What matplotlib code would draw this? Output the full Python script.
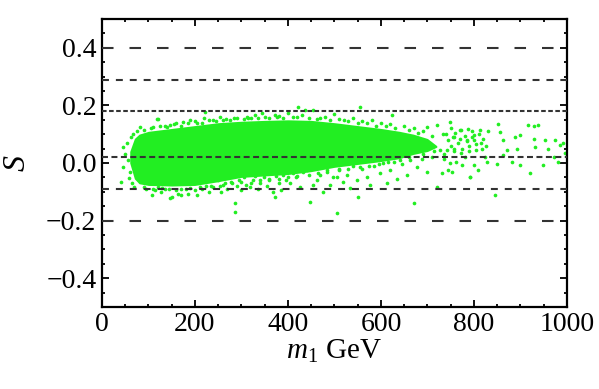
import matplotlib
matplotlib.use("Agg")
import matplotlib.pyplot as plt
from matplotlib.ticker import MultipleLocator, FuncFormatter

plt.rcParams['font.family'] = ['Liberation Serif', 'DejaVu Serif']
plt.rcParams['mathtext.fontset'] = 'custom'
plt.rcParams['mathtext.rm'] = 'Liberation Serif'
plt.rcParams['mathtext.it'] = 'Liberation Serif:italic'
plt.rcParams['lines.scale_dashes'] = False

# dense core of the scan (envelope)
core_x = [60, 70, 80, 100, 150, 200, 250, 300, 350, 400, 450, 500, 550, 600, 640, 670, 700, 720]
core_hi = [0.04, 0.085, 0.10, 0.11, 0.12, 0.13, 0.14, 0.145, 0.148, 0.15, 0.148, 0.14,
           0.13, 0.12, 0.11, 0.10, 0.085, 0.06]
core_lo = [0.0, -0.055, -0.072, -0.078, -0.08, -0.078, -0.065, -0.05, -0.045, -0.04, -0.03,
           -0.015, -0.005, 0.005, 0.015, 0.03, 0.04, 0.055]

# points along the ragged edge of the core
edge_x = [90, 105, 125, 140, 155, 170, 185, 200, 215, 230, 245, 260, 275, 290, 305, 320, 335,
          360, 380, 410, 430, 445, 470, 490, 510, 530, 550, 570, 590, 610, 630, 660, 680, 710,
          90, 110, 130, 145, 170, 190, 210, 235, 260, 280, 300, 320, 340, 360, 380, 400, 420,
          445, 465, 485, 510, 530, 555, 575, 595, 615, 640, 660, 690, 715]
edge_y = [0.115, 0.12, 0.128, 0.125, 0.135, 0.13, 0.138, 0.145, 0.14, 0.148, 0.145, 0.15, 0.148,
          0.155, 0.152, 0.158, 0.155, 0.158, 0.162, 0.16, 0.165, 0.158, 0.155, 0.15, 0.152, 0.145,
          0.14, 0.138, 0.13, 0.128, 0.12, 0.115, 0.105, 0.095,
          -0.085, -0.09, -0.088, -0.092, -0.09, -0.088, -0.085, -0.08, -0.078, -0.07, -0.065,
          -0.07, -0.06, -0.055, -0.055, -0.05, -0.045, -0.04, -0.035, -0.03, -0.025, -0.02,
          -0.015, -0.01, -0.005, 0.005, 0.01, 0.02, 0.03, 0.04]

# scattered points outside the core
pts_x = [45, 46, 42, 56, 58, 62, 82, 50, 55, 60, 65, 70, 75, 68,
         107, 128, 150, 171, 186, 146, 164, 95, 115, 135, 160, 200, 215, 230, 240, 120, 180, 205, 225,
         121, 146, 174, 110, 135, 160, 190, 205, 220, 240, 268, 255, 285, 118, 221,
         314, 330, 350, 372, 390, 419, 422, 437, 454, 462, 480, 500, 520, 540, 560, 580, 600, 620,
         650, 670, 690, 720, 700, 400, 345, 311, 555, 623, 376,
         250, 255, 257, 265, 270, 278, 286, 286, 290, 295, 300, 305, 310, 318, 325, 330, 335, 340,
         348, 355, 360, 368, 372, 375, 380, 386, 390, 395, 404, 411, 418, 426, 432, 440, 447, 454,
         462, 470, 476, 483, 490, 498,
         505, 505, 510, 518, 526, 533, 540, 548, 551, 560, 569, 576, 585, 598, 605, 612, 619, 628,
         634, 645, 655, 662, 670, 677, 688, 698, 710, 720, 727, 731,
         734, 756, 773, 784, 799, 756, 791,
         740, 745, 750, 755, 760, 765, 770, 775, 780, 785, 790, 795, 800, 805, 810, 815, 820, 825,
         742, 758, 772, 790, 805, 818, 750, 770, 795, 735, 748, 762, 735,
         748, 788, 813, 831, 852, 856, 863, 870, 888, 899, 917, 928, 938, 928, 953, 974, 985, 992,
         960, 931, 920, 949, 899, 892, 845, 791, 809, 827, 849, 752, 744, 774, 799, 881, 863, 824,
         781, 971, 981, 996]
pts_y = [0.056, -0.013, -0.065, 0.01, -0.053, 0.09, 0.125, 0.03, 0.07, -0.03, -0.07, -0.085, 0.11, 0.1,
         -0.11, -0.1, -0.117, -0.112, -0.106, -0.12, -0.108, -0.09, -0.095, -0.09, -0.095, -0.095,
         -0.09, -0.1, -0.085, -0.085, -0.09, -0.11, -0.08,
         0.152, 0.131, 0.142, 0.125, 0.13, 0.14, 0.148, 0.14, 0.155, 0.15, 0.154, 0.16, 0.158, 0.154, 0.177,
         0.155, 0.165, 0.16, 0.166, 0.158, 0.16, 0.194, 0.183, 0.183, 0.154, 0.16, 0.17, 0.15, 0.158,
         0.145, 0.15, 0.14, 0.135, 0.13, 0.12, 0.11, 0.131, 0.125, 0.175, 0.175, 0.16, 0.194, 0.166, 0.16,
         -0.06, -0.08, -0.1, -0.07, -0.09, -0.065, -0.14, -0.169, -0.08, -0.06, -0.095, -0.05, -0.075,
         -0.085, -0.06, -0.045, -0.09, -0.07, -0.05, -0.08, -0.06, -0.1, -0.117, -0.045, -0.07, -0.094,
         -0.04, -0.06, -0.071, -0.036, -0.05, -0.083, -0.03, -0.025, -0.135, -0.077, -0.06, -0.04,
         -0.1, -0.025, -0.077, -0.05,
         -0.048, -0.175, -0.02, -0.065, -0.042, -0.088, -0.01, -0.06, -0.117, -0.02, -0.048, -0.077,
         -0.01, -0.036, 0.0, -0.071, -0.025, 0.005, -0.054, -0.005, -0.042, 0.01, -0.14, -0.013,
         0.015, -0.031, 0.02, -0.083, 0.044, -0.036,
         0.102, 0.09, 0.114, 0.079, 0.096, 0.05, -0.048,
         0.10, 0.08, 0.06, 0.09, 0.105, 0.07, 0.085, 0.05, 0.095, 0.075, 0.06, 0.09, 0.08, 0.065,
         0.1, 0.07, 0.085, 0.06, 0.045, 0.04, 0.035, 0.04, 0.045, 0.05, 0.12, 0.115, 0.11, 0.03,
         0.0, 0.005, 0.015,
         0.142, 0.119, 0.114, 0.11, 0.137, 0.108, 0.079, 0.044, 0.09, 0.096, 0.131, 0.128, 0.131,
         0.085, 0.079, 0.079, 0.062, 0.068, 0.05, 0.056, -0.036, -0.008, -0.008, 0.05, -0.112,
         -0.048, -0.025, 0.004, -0.002, -0.031, -0.025, -0.008, -0.008, 0.004, 0.027, 0.021,
         0.021, 0.021, 0.004, 0.033]

# horizontal reference lines and their dash patterns (points)
ref_y = [0.4, 0.29, 0.18, 0.02, -0.09, -0.2]
ref_dash = [(8.3, 11.5), (5.0, 5.0), (3.3, 1.8), (4.3, 2.5), (5.0, 5.0), (8.3, 11.5)]

green = '#22ee22'

fig = plt.figure(figsize=(5.99, 3.89), dpi=100)
ax = fig.add_axes([0.170, 0.211, 0.7766, 0.740])

ax.fill_between(core_x, core_lo, core_hi, color=green, linewidth=0, zorder=2)
ax.scatter(edge_x, edge_y, s=7, color=green, linewidths=0, zorder=2)
ax.scatter(pts_x, pts_y, s=7, color=green, linewidths=0, zorder=2)

for yv, d in zip(ref_y, ref_dash):
    ax.axhline(yv, color='#333333', lw=1.5, dashes=d, zorder=3)

ax.set_xlim(0, 1000)
ax.set_ylim(-0.5, 0.5)
ax.xaxis.set_major_locator(MultipleLocator(200))
ax.xaxis.set_minor_locator(MultipleLocator(50))
ax.yaxis.set_major_locator(MultipleLocator(0.2))
ax.yaxis.set_minor_locator(MultipleLocator(0.05))
ax.yaxis.set_major_formatter(FuncFormatter(lambda v, p: ('%.1f' % v).replace('-', '\u2212')))

ax.tick_params(which='both', direction='in', top=True, right=True, width=1.3, labelsize=20, pad=4)
ax.tick_params(which='major', length=5)
ax.tick_params(which='minor', length=2.5)
for s in ax.spines.values():
    s.set_linewidth(1.6)

ax.set_xlabel(r'$m_1$ GeV', fontsize=21, labelpad=0)
ax.set_ylabel(r'$S$', fontsize=23, labelpad=10)

fig.savefig('out.png', dpi=100)
